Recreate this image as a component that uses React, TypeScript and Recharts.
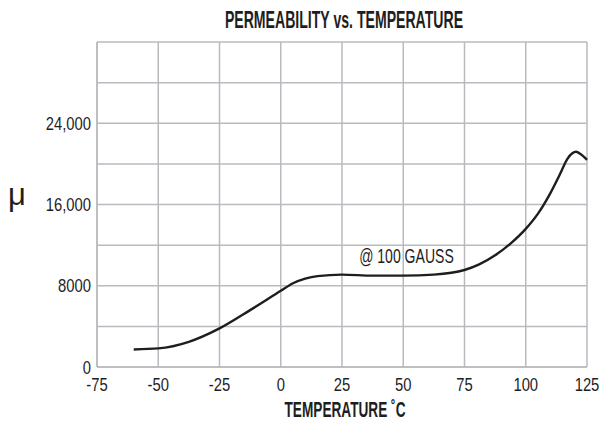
import React from 'react';
import { LineChart, Line, XAxis, YAxis, CartesianGrid, ReferenceDot, Label } from 'recharts';

const temperatures = [-60, -50, -37.5, -25, -12.5, 0, 5, 10, 15, 25, 37.5, 50, 62.5, 75, 81, 87.5, 94, 100, 105, 110, 114, 117, 119, 120.5, 122.5, 125];
const permeability = [1730, 1830, 2480, 3800, 5600, 7500, 8250, 8700, 8950, 9100, 9000, 9000, 9100, 9550, 10100, 11000, 12200, 13600, 15100, 17100, 19000, 20500, 21050, 21200, 20950, 20400];
const xTicks = [-75, -50, -25, 0, 25, 50, 75, 100, 125];
const yTicks = [0, 4000, 8000, 12000, 16000, 20000, 24000, 28000, 32000];
const yTickLabels: Record<number, string> = { 0: '0', 8000: '8000', 16000: '16,000', 24000: '24,000' };

const chartTitle = 'PERMEABILITY vs. TEMPERATURE';
const xTitle = 'TEMPERATURE ˚C';
const yTitle = 'μ';
const curveNote = '@ 100 GAUSS';
const noteAt = { x: 51.3, y: 10930 };

const data = temperatures.map((t, i) => ({ t, mu: permeability[i] }));

const FONT = '"Liberation Sans", Arial, sans-serif';
const GRID = '#b7bbbf';
const INK = '#1e1e1e';
const SQUEEZE = 0.8;

const XTick = ({ x, y, payload }: any) => (
  <g transform={`translate(${x},${y})`}>
    <text transform={`scale(${SQUEEZE},1)`} textAnchor="middle" dy="0.71em" fontFamily={FONT} fontSize={18.5} fill={INK}>
      {payload.value}
    </text>
  </g>
);

const YTick = ({ x, y, payload }: any) => {
  const label = yTickLabels[payload.value];
  if (!label) return <g />;
  return (
    <g transform={`translate(${x},${y})`}>
      <text transform={`scale(${SQUEEZE},1)`} textAnchor="end" dy="0.355em" fontFamily={FONT} fontSize={18.5} fill={INK}>
        {label}
      </text>
    </g>
  );
};

export default function App() {
  return (
    <div style={{ position: 'absolute', left: 0, top: 0, width: 603, height: 423, background: '#fff' }}>
      <LineChart width={603} height={423} data={data} margin={{ top: 42, right: 16, bottom: 0, left: 0 }}>
        <CartesianGrid stroke={GRID} strokeWidth={1.5} />
        <XAxis
          dataKey="t"
          type="number"
          domain={[-75, 125]}
          ticks={xTicks}
          height={56}
          tickLine={false}
          tickSize={0}
          tickMargin={11}
          axisLine={{ stroke: GRID, strokeWidth: 1.5 }}
          tick={<XTick />}
          interval={0}
        >
          <Label
            content={({ viewBox }: any) => (
              <g transform={`translate(${viewBox.x + viewBox.width / 2 + 3},417)`}>
                <text transform="scale(0.62,1)" textAnchor="middle" fontFamily={FONT} fontWeight="bold" fontSize={22} fill={INK}>
                  {xTitle}
                </text>
              </g>
            )}
          />
        </XAxis>
        <YAxis
          type="number"
          domain={[0, 32000]}
          ticks={yTicks}
          width={97}
          tickLine={false}
          tickSize={0}
          tickMargin={6}
          axisLine={{ stroke: GRID, strokeWidth: 1.5 }}
          tick={<YTick />}
          interval={0}
        >
          <Label
            content={() => (
              <text x={8} y={205} textAnchor="start" fontFamily={FONT} fontSize={31} fill={INK}>
                {yTitle}
              </text>
            )}
          />
        </YAxis>
        <Line type="monotone" dataKey="mu" stroke={INK} strokeWidth={2.4} dot={false} isAnimationActive={false} />
        <ReferenceDot
          x={noteAt.x}
          y={noteAt.y}
          r={0}
          fill="none"
          stroke="none"
          label={({ viewBox }: any) => (
            <g transform={`translate(${viewBox.x},${viewBox.y + 7})`}>
              <text transform="scale(0.72,1)" textAnchor="middle" fontFamily={FONT} fontSize={19.5} fill={INK}>
                {curveNote}
              </text>
            </g>
          )}
        />
        <ReferenceDot
          x={25}
          y={32000}
          r={0}
          fill="none"
          stroke="none"
          ifOverflow="visible"
          label={() => (
            <g transform="translate(344,28)">
              <text transform="scale(0.6,1)" textAnchor="middle" fontFamily={FONT} fontWeight="bold" fontSize={23.5} fill={INK}>
                {chartTitle}
              </text>
            </g>
          )}
        />
      </LineChart>
    </div>
  );
}
